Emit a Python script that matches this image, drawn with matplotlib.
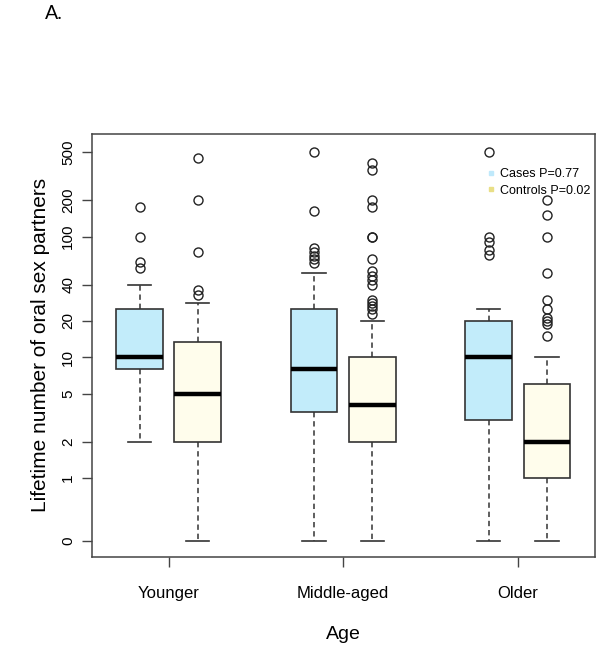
import numpy as np
import matplotlib
matplotlib.use("Agg")
import matplotlib.pyplot as plt
from matplotlib.lines import Line2D

plt.rcParams["font.family"] = ["Liberation Sans", "DejaVu Sans"]

# Values (number of partners)
groups = ["Younger", "Middle-aged", "Older"]
series = ["Cases", "Controls"]
p_values = ["0.77", "0.02"]

# order: Younger cases, Younger controls, Middle cases, Middle controls, Older cases, Older controls
q1 = [8, 2, 3.5, 2, 3, 1]
median = [10, 5, 8, 4, 10, 2]
q3 = [25, 13.5, 25, 10, 20, 6]
whis_lo = [2, 0, 0, 0, 0, 0]
whis_hi = [40, 28, 50, 20, 25, 10]
fliers = [
    [55, 62, 100, 175],
    [33, 36, 75, 200, 450],
    [60, 65, 69, 75, 80, 164, 500],
    [23, 25, 26.5, 28, 30, 40, 44, 47, 52, 65, 100, 100, 175, 203, 360, 407],
    [71, 78, 90, 99, 500],
    [15, 19, 20, 21, 25, 30, 50, 100, 152, 200],
]

ytick_vals = [0, 1, 2, 5, 10, 20, 40, 100, 200, 500]

fill_cols = ["#c2ecfa", "#fffdec"]
legend_cols = ["#bfe9fb", "#e9df86"]

ZERO_AT = 0.3  # where the 0 tick sits on the log axis


def to_axis(v):
    v = np.asarray(v, dtype=float)
    return np.log10(np.where(v <= 0, ZERO_AT, v))


positions = [1, 2, 4, 5, 7, 8]
stats = []
for i in range(6):
    stats.append(dict(
        q1=to_axis(q1[i]), med=to_axis(median[i]), q3=to_axis(q3[i]),
        whislo=to_axis(whis_lo[i]), whishi=to_axis(whis_hi[i]),
        fliers=to_axis(fliers[i])))

fig = plt.figure(figsize=(6, 6.45), dpi=100)
ax = fig.add_axes([0.153, 0.137, 0.838, 0.656])

bp = ax.bxp(
    stats, positions=positions, widths=0.8, patch_artist=True,
    boxprops=dict(edgecolor="#333333", linewidth=1.2),
    medianprops=dict(color="black", linewidth=3.2, solid_capstyle="butt"),
    whiskerprops=dict(color="#333333", linewidth=1.1, linestyle=(0, (3.5, 2.5))),
    capprops=dict(color="#333333", linewidth=1.2),
    flierprops=dict(marker="o", markerfacecolor="none", markeredgecolor="#222222",
                    markersize=6.5, markeredgewidth=1.0),
    capwidths=0.4,
)
for i, patch in enumerate(bp["boxes"]):
    patch.set_facecolor(fill_cols[i % 2])

ax.set_xlim(0.18, 8.82)
ax.set_ylim(-0.654, 2.856)
ax.set_xticks([1.5, 4.5, 7.5])
ax.set_xticklabels(groups, fontsize=12)
ax.set_yticks(to_axis(ytick_vals))
ax.set_yticklabels([str(v) for v in ytick_vals], fontsize=11, rotation=90, va="center")
ax.tick_params(axis="both", direction="out", length=7, width=1, color="#444444")
ax.tick_params(axis="x", pad=14)
ax.tick_params(axis="y", pad=5)
for s in ax.spines.values():
    s.set_color("#444444")
    s.set_linewidth(1.1)

ax.set_xlabel("Age", fontsize=14, labelpad=18)
ax.set_ylabel("Lifetime number of oral sex partners", fontsize=15, labelpad=8)

handles = [Line2D([], [], marker="s", linestyle="none", markersize=3.5,
                  markerfacecolor=legend_cols[i], markeredgecolor=legend_cols[i])
           for i in range(2)]
labels = [f"{series[i]} P={p_values[i]}" for i in range(2)]
ax.legend(handles, labels, loc="upper left", bbox_to_anchor=(0.778, 0.93),
          frameon=False, fontsize=9, handlelength=0.5, handletextpad=0.5,
          labelspacing=0.35, borderaxespad=0)

fig.text(0.075, 0.992, "A.", fontsize=14, family=["Lato", "DejaVu Sans"], va="top")

fig.savefig("out.png", dpi=100)
